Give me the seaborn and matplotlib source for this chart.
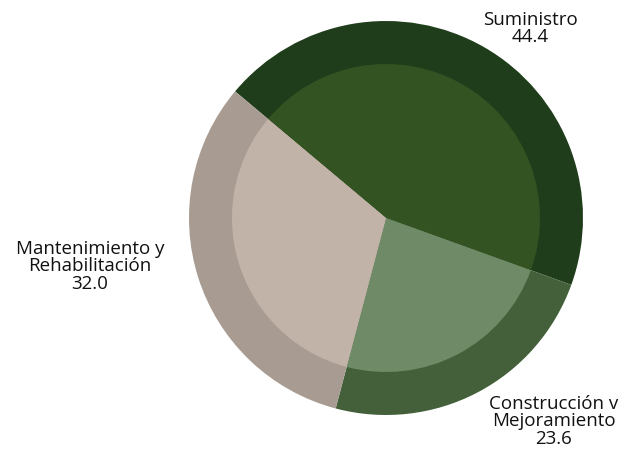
import matplotlib
matplotlib.use('Agg')
import matplotlib.pyplot as plt
import seaborn as sns

# data
categories = ["Suministro", "Construcción v\nMejoramiento", "Mantenimiento y\nRehabilitación"]
values = [44.4, 23.6, 32.0]
outer_colors = ["#1f3d1b", "#44603a", "#a89c92"]
inner_colors = ["#335322", "#6f8a66", "#c2b3a8"]

sns.set_theme(style="white")
plt.rcParams['font.family'] = ['Open Sans', 'DejaVu Sans']

W, H = 626, 452
fig = plt.figure(figsize=(W / 100, H / 100), dpi=100)
ax = fig.add_axes([0, 0, 1, 1])

cx, cy = 386, H - 219
start = 140

# outer dark ring, then lighter inner disc on top
ax.pie(values, colors=outer_colors, radius=197, center=(cx, cy),
       startangle=start, counterclock=False, frame=True,
       wedgeprops=dict(linewidth=0))
ax.pie(values, colors=inner_colors, radius=154, center=(cx, cy),
       startangle=start, counterclock=False, frame=True,
       wedgeprops=dict(linewidth=0))
ax.set_xlim(0, W)
ax.set_ylim(0, H)
ax.set_aspect('equal')
ax.axis('off')

# label positions in pixels (x, top y)
label_pos = [(530, 11), (554, 395), (90, 240)]
for cat, val, (lx, ly) in zip(categories, values, label_pos):
    ax.text(lx, H - ly, f"{cat}\n{val:.1f}", ha='center', va='top',
            fontsize=13.5, color='#111111', linespacing=0.95)

plt.savefig("out.png", dpi=100)
plt.close()
